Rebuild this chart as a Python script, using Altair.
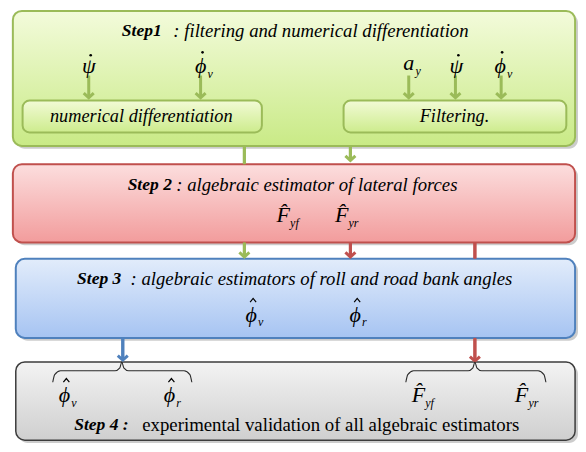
import altair as alt
import pandas as pd

# ---------------- data (image pixel coordinates, y downward) ----------------
box_names = ["step1", "diff", "filt", "step2", "step3", "step4"]
box_x1 = [5, 15, 345, 5, 8, 8]
box_x2 = [583, 261, 574, 583, 583, 583]
box_y1 = [3, 96, 96, 162, 260, 367]
box_y2 = [143, 129, 129, 243, 342, 448]
box_top = ["#f3fbdb", "#f2fad6", "#f2fad6", "#fcdede", "#e2ecfb", "#f3f3f3"]
box_bottom = ["#c9ea86", "#cdec8d", "#cdec8d", "#f29c9c", "#a6c4f2", "#cfcfcf"]
box_stroke = ["#9bbb59", "#9bbb59", "#9bbb59", "#c0504d", "#4f81bd", "#3c3c3c"]

line_x = [83, 198, 412, 460, 507, 243, 352, 243, 352, 480, 118, 480]
line_y1 = [70, 70, 70, 70, 70, 143, 143, 243, 243, 243, 342, 342]
line_y2 = [93, 93, 93, 93, 93, 162, 158, 258, 258, 260, 365, 366]
line_col = ["g", "g", "g", "g", "g", "g", "g", "g", "r", "r", "b", "r"]
line_head = [1, 1, 1, 1, 1, 0, 1, 1, 1, 0, 1, 1]

brace_id = ["L"] * 11 + ["R"] * 11
brace_x = [46, 48, 54, 110, 115, 117, 119, 124, 181, 187, 189,
           409, 411, 417, 473, 478, 480, 482, 487, 545, 551, 553]
brace_y = [388, 380, 376, 376, 373, 367, 373, 376, 376, 380, 388,
           388, 380, 376, 376, 373, 367, 373, 376, 376, 380, 388]

# symbols: base letter, subscript; accents drawn as small marks
sym_letter = ["ψ", "ϕ", "a", "ψ", "ϕ", "F\u0302", "F\u0302",
              "ϕ", "ϕ", "ϕ", "ϕ", "F\u0302", "F\u0302"]
sym_x = [83, 198, 412, 461, 506, 283, 343, 250, 357, 58, 166, 422, 528]
sym_y = [60, 60, 57, 60, 60, 215, 215, 318, 318, 401, 401, 401, 401]
sym_sub = ["", "v", "y", "", "v", "yf", "yr", "v", "r", "v", "r", "yf", "yr"]

dot_x = [85, 200, 463, 508]
dot_y = [49, 46, 49, 46]

hat_x = [252, 359, 60, 168]
hat_y = [303, 303, 386, 386]

bold_text = ["Step1", "Step 2", "Step 3", "Step 4  :"]
bold_x = [117, 123, 71, 68]
bold_y = [24, 183, 281, 432]

ital_text = [": filtering and numerical differentiation",
             ": algebraic estimator of lateral forces",
             ": algebraic estimators of roll and road bank angles"]
ital_x = [170, 173, 126]
ital_y = [24, 183, 281]

plain_text = ["experimental validation of all algebraic estimators"]
plain_x = [138]
plain_y = [432]

inner_text = ["numerical differentiation", "Filtering."]
inner_x = [137, 459]
inner_y = [113, 113]

COL = {"g": "#9bbb59", "r": "#c0504d", "b": "#4f81bd"}
FONT = "Liberation Serif"

xs = alt.Scale(domain=[0, 586], nice=False, zero=False)
ys = alt.Scale(domain=[0, 452], nice=False, zero=False, reverse=True)


def X(f="x"):
    return alt.X(f + ":Q", scale=xs, axis=None)


def Y(f="y"):
    return alt.Y(f + ":Q", scale=ys, axis=None)


layers = []

# shadows
sh = pd.DataFrame({"x": [a + 3 for a in box_x1], "x2": [a + 3 for a in box_x2],
                   "y": [a + 3 for a in box_y1], "y2": [a + 3 for a in box_y2],
                   "n": box_names})
sh = sh[sh["n"].isin(["step1", "step2", "step3", "step4"])]
layers.append(alt.Chart(sh).mark_rect(cornerRadius=9, fill="#000000", opacity=0.2)
              .encode(x=X(), x2="x2:Q", y=Y(), y2="y2:Q"))

lines = pd.DataFrame({"x": line_x, "y": line_y1, "y2": line_y2, "c": line_col, "h": line_head})
cscale = alt.Scale(domain=list(COL), range=list(COL.values()))


def rules(df):
    return (alt.Chart(df).mark_rule(strokeWidth=3)
            .encode(x=X(), y=Y(), y2="y2:Q", color=alt.Color("c:N", scale=cscale, legend=None)))


layers.append(rules(lines))

for i in range(len(box_names)):
    df = pd.DataFrame({"x": [box_x1[i]], "x2": [box_x2[i]], "y": [box_y1[i]], "y2": [box_y2[i]]})
    grad = alt.Gradient(gradient="linear", x1=0, x2=0, y1=0, y2=1,
                        stops=[alt.GradientStop(color=box_top[i], offset=0),
                               alt.GradientStop(color=box_bottom[i], offset=1)])
    layers.append(alt.Chart(df).mark_rect(cornerRadius=9 if i not in (1, 2) else 7, fill=grad,
                                          stroke=box_stroke[i], strokeWidth=2 if i < 5 else 1.5)
                  .encode(x=X(), x2="x2:Q", y=Y(), y2="y2:Q"))

layers.append(rules(lines))

heads = lines[lines["h"] == 1]
layers.append(alt.Chart(heads).mark_point(shape="M-1,-0.9L0,0L1,-0.9", filled=False, strokeWidth=3,
                                          size=100, opacity=1)
              .encode(x=X(), y=Y("y2"), color=alt.Color("c:N", scale=cscale, legend=None)))

# braces
br = pd.DataFrame({"x": brace_x, "y": brace_y, "id": brace_id, "o": list(range(len(brace_x)))})
layers.append(alt.Chart(br).mark_line(color="#2b2b2b", strokeWidth=1.1, interpolate="monotone")
              .encode(x=X(), y=Y(), detail="id:N", order="o:Q"))

# accents
layers.append(alt.Chart(pd.DataFrame({"x": dot_x, "y": dot_y}))
              .mark_point(shape="circle", filled=True, color="#000000", size=7, opacity=1)
              .encode(x=X(), y=Y()))
layers.append(alt.Chart(pd.DataFrame({"x": hat_x, "y": hat_y}))
              .mark_point(shape="M-1,0.6L0,-0.6L1,0.6", filled=False, color="#000000",
                          strokeWidth=1.2, size=36, opacity=1)
              .encode(x=X(), y=Y()))


def text_layer(df, **kw):
    base = dict(font=FONT, baseline="middle", color="#000000")
    base.update(kw)
    return alt.Chart(df).mark_text(**base).encode(x=X(), y=Y(), text="t:N")


layers.append(text_layer(pd.DataFrame({"x": bold_x, "y": bold_y, "t": bold_text}),
                         align="left", fontSize=17.5, fontWeight="bold", fontStyle="italic"))
layers.append(text_layer(pd.DataFrame({"x": ital_x, "y": ital_y, "t": ital_text}),
                         align="left", fontSize=18.7, fontStyle="italic"))
layers.append(text_layer(pd.DataFrame({"x": plain_x, "y": plain_y, "t": plain_text}),
                         align="left", fontSize=18.8))
layers.append(text_layer(pd.DataFrame({"x": inner_x, "y": inner_y, "t": inner_text}),
                         align="center", fontSize=18.3, fontStyle="italic"))

sym = pd.DataFrame({"x": sym_x, "y": sym_y, "t": sym_letter})
layers.append(text_layer(sym, align="center", fontSize=22, fontStyle="italic"))
sub = pd.DataFrame({"x": [a + 7 for a in sym_x], "y": [b + 8 for b in sym_y], "t": sym_sub})
layers.append(text_layer(sub, align="left", fontSize=12, fontStyle="italic"))

chart = (alt.layer(*layers)
         .properties(width=570, height=436, padding=0,
                     autosize=alt.AutoSizeParams(type="none"))
         .configure_view(stroke=None))

chart.save("out.html", embed_options={"renderer": "svg", "actions": False})
